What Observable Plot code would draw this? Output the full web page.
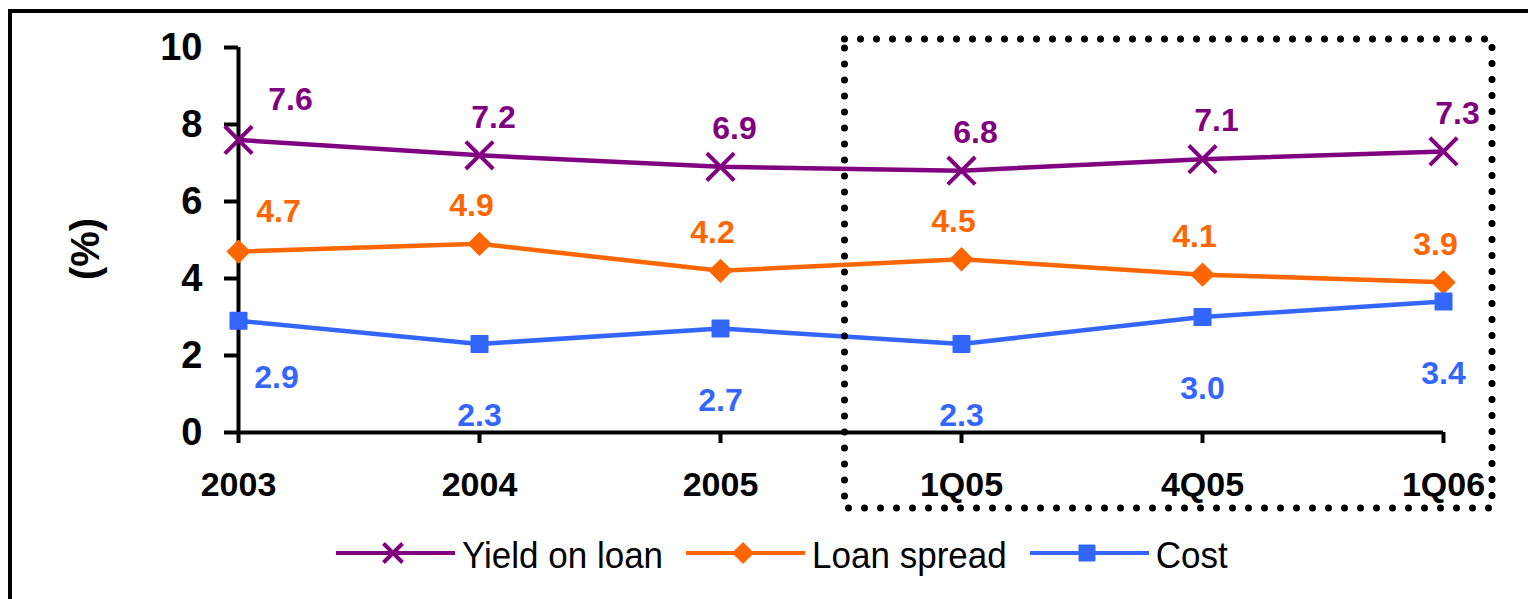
<!DOCTYPE html>
<html>
<head>
<meta charset="utf-8">
<script src="https://cdn.jsdelivr.net/npm/d3@7"></script>
<script src="https://cdn.jsdelivr.net/npm/@observablehq/plot@0.6"></script>
<style>
  html, body { margin: 0; padding: 0; background: #fff; overflow: hidden; }
  #wrap { position: relative; width: 1528px; height: 599px; overflow: hidden;
          font-family: "Liberation Sans", Arial, sans-serif; color: #000; }
  #frame { position: absolute; left: 8px; top: 9px; width: 1640px; height: 720px;
           border: 4px solid #000; box-sizing: border-box; }
  #chart { position: absolute; left: 0; top: 0; }
  #overlay { position: absolute; left: 0; top: 0; pointer-events: none; }
  #legend { position: absolute; left: 336px; top: 532px; height: 46px; display: flex;
            align-items: center; white-space: nowrap; }
  .item { display: flex; align-items: center; margin-right: 23px; }
  .item svg { display: block; margin-right: 7px; }
  .item span { font-size: 35px; line-height: 46px; display: inline-block; transform: scaleY(1.08); }
</style>
</head>
<body>
<div id="wrap">
  <div id="frame"></div>
  <div id="chart"></div>
  <div id="legend"></div>
</div>
<script>
// ---- data ----
const categories = ["2003", "2004", "2005", "1Q05", "4Q05", "1Q06"];
const yieldOnLoan = [7.6, 7.2, 6.9, 6.8, 7.1, 7.3];
const loanSpread  = [4.7, 4.9, 4.2, 4.5, 4.1, 3.9];
const cost        = [2.9, 2.3, 2.7, 2.3, 3.0, 3.4];
const seriesNames = ["Yield on loan", "Loan spread", "Cost"];
const seriesColors = ["#800080", "#FF6600", "#3366FF"];
const yTicks = [0, 2, 4, 6, 8, 10];
const yLabel = "(%)";

const seriesValues = [yieldOnLoan, loanSpread, cost];
const rows = [];
seriesNames.forEach((s, k) => {
  seriesValues[k].forEach((v, i) => rows.push({series: s, cat: categories[i], value: v, idx: i}));
});
const bySeries = s => rows.filter(d => d.series === s);

const FONT = '"Liberation Sans", Arial, sans-serif';
const labelFont = {fontSize: 32, fontWeight: "bold"};

function labels(s, color, dxFirst, dyFirst, dxRest, dyRest) {
  const data = bySeries(s);
  return [
    Plot.text(data.filter(d => d.idx === 0), {x: "cat", y: "value", text: d => d.value.toFixed(1),
      fill: color, dx: dxFirst, dy: dyFirst, ...labelFont}),
    Plot.text(data.filter(d => d.idx > 0), {x: "cat", y: "value", text: d => d.value.toFixed(1),
      fill: color, dx: dxRest, dy: dyRest, ...labelFont})
  ];
}

const plot = Plot.plot({
  width: 1528,
  height: 520,
  marginLeft: 238,
  marginRight: 85,
  marginTop: 47,
  marginBottom: 88,
  style: {fontFamily: FONT, background: "transparent", color: "#000", overflow: "visible"},
  x: {type: "point", domain: categories, padding: 0},
  y: {domain: [0, 10]},
  marks: [
    Plot.axisY({ticks: yTicks, tickSize: 14, tickPadding: 22, tickFormat: d => String(d),
      fontSize: 38, fontWeight: "bold", strokeWidth: 4, color: "#000",
      label: yLabel, labelAnchor: "center", labelArrow: "none", labelOffset: 168}),
    Plot.axisX({tickSize: 11, tickPadding: 28, fontSize: 34, fontWeight: "bold",
      strokeWidth: 4, color: "#000", label: null}),
    Plot.ruleX([categories[0]], {y1: 0, y2: 10, stroke: "#000", strokeWidth: 4}),
    Plot.ruleY([0], {stroke: "#000", strokeWidth: 4}),
    ...seriesNames.map((s, k) => Plot.line(bySeries(s), {x: "cat", y: "value",
      stroke: seriesColors[k], strokeWidth: 4.5})),
    Plot.dot(bySeries(seriesNames[0]), {x: "cat", y: "value", symbol: "times", r: 12.5,
      stroke: seriesColors[0], strokeWidth: 4}),
    Plot.dot(bySeries(seriesNames[1]), {x: "cat", y: "value", symbol: "diamond2", r: 10,
      fill: seriesColors[1], stroke: seriesColors[1], strokeWidth: 1.5, strokeLinejoin: "round"}),
    Plot.dot(bySeries(seriesNames[2]), {x: "cat", y: "value", symbol: "square", r: 9.3,
      fill: seriesColors[2], stroke: seriesColors[2], strokeWidth: 1.5, strokeLinejoin: "round"}),
    ...labels(seriesNames[0], seriesColors[0], 52, -40, 14, -38),
    ...labels(seriesNames[1], seriesColors[1], 40, -40, -8, -38),
    ...labels(seriesNames[2], seriesColors[2], 38, 57, 0, 72)
  ]
});
document.getElementById("chart").appendChild(plot);

// enlarge and nudge the rotated y-axis label slightly downward, as in the reference
d3.select(plot).selectAll("text").filter(function() { return this.textContent === yLabel; })
  .attr("font-size", 40)
  .attr("dx", -9);

// dotted box highlighting the quarterly section
const xs = plot.scale("x"), ys = plot.scale("y");
const bx0 = (xs.apply(categories[2]) + xs.apply(categories[3])) / 2 + 4;
const bx1 = xs.apply(categories[5]) + 49;
const by0 = ys.apply(10) - 8;
const by1 = 508;
const ov = d3.select("#wrap").append("svg").attr("id", "overlay")
  .attr("width", 1528).attr("height", 599);
ov.append("rect").attr("x", bx0).attr("y", by0).attr("width", bx1 - bx0).attr("height", by1 - by0)
  .attr("fill", "none").attr("stroke", "#000").attr("stroke-width", 7)
  .attr("stroke-dasharray", "0 16").attr("stroke-linecap", "round");

// legend
const symbols = [d3.symbol(d3.symbolTimes, 238), d3.symbol(d3.symbolDiamond2, 281), d3.symbol(d3.symbolSquare, 256)];
const legend = d3.select("#legend");
seriesNames.forEach((s, k) => {
  const item = legend.append("div").attr("class", "item");
  const sv = item.append("svg").attr("width", 119).attr("height", 46);
  sv.append("line").attr("x1", 0).attr("x2", 119).attr("y1", 21).attr("y2", 21)
    .attr("stroke", seriesColors[k]).attr("stroke-width", 4);
  const p = sv.append("path").attr("d", symbols[k]()).attr("transform", "translate(57,21)");
  if (k === 0) p.attr("fill", "none").attr("stroke", seriesColors[k]).attr("stroke-width", 4);
  else p.attr("fill", seriesColors[k]).attr("stroke", seriesColors[k]).attr("stroke-width", 1);
  item.append("span").text(s);
});
</script>
</body>
</html>
